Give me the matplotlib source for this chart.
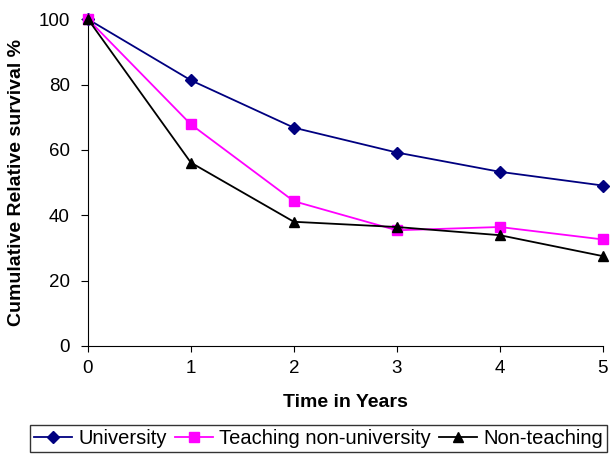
import matplotlib
matplotlib.use("Agg")
import matplotlib.pyplot as plt

plt.rcParams['font.family'] = ['Liberation Sans', 'DejaVu Sans']

years = [0, 1, 2, 3, 4, 5]
university = [100, 81.3, 66.8, 59.2, 53.3, 49.1]
teaching_non_university = [100, 67.8, 44.3, 35.4, 36.4, 32.6]
non_teaching = [100, 56.1, 38.0, 36.4, 33.9, 27.5]
labels = ["University", "Teaching non-university", "Non-teaching"]

fig = plt.figure(figsize=(6.15, 4.57), dpi=100)
ax = fig.add_axes([0.143, 0.243, 0.837, 0.715])

ax.plot(years, university, color='#000080', marker='D', markersize=6, lw=1.3, label=labels[0], clip_on=False, zorder=3)
ax.plot(years, teaching_non_university, color='#FF00FF', marker='s', markersize=7, lw=1.3, label=labels[1], clip_on=False, zorder=3)
ax.plot(years, non_teaching, color='black', marker='^', markersize=7, lw=1.3, label=labels[2], clip_on=False, zorder=4)

ax.set_xlim(0, 5)
ax.set_ylim(0, 100)
ax.set_xticks(years)
ax.set_yticks([0, 20, 40, 60, 80, 100])
ax.spines['top'].set_visible(False)
ax.spines['right'].set_visible(False)
ax.tick_params(axis='y', direction='out', length=5, pad=8, labelsize=13.5)
ax.tick_params(axis='x', direction='out', length=4, pad=6, labelsize=13.5)
ax.set_xlabel("Time in Years", fontsize=14, fontweight='bold', labelpad=12)
ax.set_ylabel("Cumulative Relative survival %", fontsize=14, fontweight='bold', labelpad=10)

leg = fig.legend(loc='upper center', bbox_to_anchor=(0.518, 0.071), ncol=3, frameon=True, fancybox=False,
                 edgecolor='black', fontsize=14.5, handlelength=1.9, handletextpad=0.3, columnspacing=0.4,
                 borderpad=0.2, borderaxespad=0)
leg.get_frame().set_linewidth(1.0)

fig.savefig("out.png", dpi=100)
